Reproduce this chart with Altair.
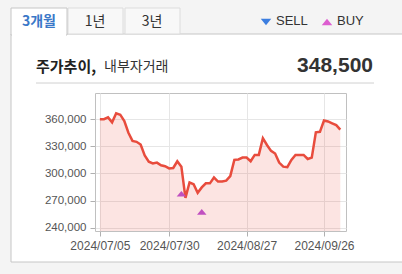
import altair as alt
import pandas as pd

# ---- data ----
prices = [360000, 360000, 362000, 356500, 366500, 365000, 358000, 345000, 336000, 335000,
          332000, 320000, 313000, 311000, 312000, 309000, 308000, 305500, 306000, 313500,
          307500, 273000, 290000, 288000, 278500, 284500, 289000, 289000, 295500, 291000,
          291000, 292000, 297000, 315000, 315500, 317500, 317500, 313500, 320500, 320500,
          339000, 331500, 325000, 322000, 312000, 307500, 307000, 315000, 320500, 320500,
          320500, 316000, 317500, 345500, 346000, 358500, 357500, 355500, 353500, 348500]
tick_idx = [0, 17, 36, 55]
tick_labels = ["2024/07/05", "2024/07/30", "2024/08/27", "2024/09/26"]
y_ticks = [240000, 270000, 300000, 330000, 360000]
buy_idx = [20, 25]
buy_price = [277500, 257500]
tabs = ["3개월", "1년", "3년"]
last_price = "348,500"

# ---- layout (absolute page px) ----
OX, OY = 95, 93          # plot origin
W, H = 251, 138
YMIN, YMAX = 236300, 389000

df = pd.DataFrame({"i": list(range(len(prices))), "p": prices})
buys = pd.DataFrame({"i": buy_idx, "p": buy_price})

label_map = "{" + ",".join(f"'{i}':'{l}'" for i, l in zip(tick_idx, tick_labels)) + "}"

xs = alt.Scale(domain=[-1.2, 60.4], nice=False, zero=False)
ys = alt.Scale(domain=[YMIN, YMAX], nice=False, zero=False)

x_axis = alt.Axis(values=tick_idx, labelExpr=f"{label_map}[''+datum.value]", title=None,
                  grid=True, gridColor="#e6e6e6", domain=False, tickColor="#b0b0b0",
                  tickSize=5, labelPadding=4, labelFont="Liberation Sans", labelFontSize=12,
                  labelColor="#555555", labelFlush=False, labelOverlap=False)
y_axis = alt.Axis(values=y_ticks, format=",d", title=None, grid=True, gridColor="#e6e6e6",
                  domain=False, tickColor="#b0b0b0", tickSize=5, labelPadding=4,
                  labelFont="Liberation Sans", labelFontSize=11.5, labelColor="#555555",
                  labelOverlap=False, tickCount=5)

X = alt.X("i:Q", scale=xs, axis=x_axis)
Y = alt.Y("p:Q", scale=ys, axis=y_axis)

area = alt.Chart(df).mark_area(color="#e84c3d", opacity=0.15).encode(
    x=X, y=Y, y2=alt.datum(YMIN))
line = alt.Chart(df).mark_line(color="#e84c3d", strokeWidth=2.5).encode(x=X, y=Y)
pts = alt.Chart(buys).mark_point(shape="M-1,0.6L1,0.6L0,-0.6Z", filled=True, color="#c050c0",
                                 size=90, opacity=1).encode(x=X, y=Y)

# ---- decorations ----
def R(x1, y1, x2, y2, fill, stroke="none"):
    return {"x": x1 - OX, "y": y1 - OY, "x2": x2 - OX, "y2": y2 - OY, "fill": fill, "stroke": stroke}

rects = pd.DataFrame([
    R(0, 0, 402, 34, "#f4f4f4"),
    R(0, 0, 11, 274, "#f4f4f4"),
    R(0, 262, 402, 274, "#f4f4f4"),
    R(11, 34, 420, 262, "none", "#c6c6c6"),
    R(68, 8, 123, 34, "#f8f8f8", "#dcdcdc"),
    R(125, 8, 180, 34, "#f8f8f8", "#dcdcdc"),
    R(11, 8, 67, 35, "#ffffff", "#c6c6c6"),
    R(12, 33, 66, 36, "#ffffff"),
])
rect_layer = alt.Chart(rects).mark_rect(strokeWidth=1).encode(
    x=alt.X("x:Q", scale=None), x2="x2:Q", y=alt.Y("y:Q", scale=None), y2="y2:Q",
    fill=alt.Fill("fill:N", scale=None), stroke=alt.Stroke("stroke:N", scale=None))

hline = alt.Chart(pd.DataFrame({"a": [0]})).mark_rule(color="#d0d0d0", strokeWidth=1).encode(
    x=alt.value(36 - OX), x2=alt.value(374 - OX), y=alt.value(83 - OY))

def T(txt, x, y, size, color, weight="normal", align="left", font="Noto Sans CJK KR"):
    return alt.Chart(pd.DataFrame({"t": [txt]})).mark_text(
        align=align, baseline="middle", fontSize=size, color=color, fontWeight=weight, font=font
    ).encode(x=alt.value(x - OX), y=alt.value(y - OY), text="t:N")

texts = [
    T(tabs[0], 39, 22, 14, "#3a78c8", "bold", "center"),
    T(tabs[1], 95, 22, 14, "#333333", "normal", "center"),
    T(tabs[2], 152, 22, 14, "#333333", "normal", "center"),
    T("SELL", 276, 21, 13, "#333333", "normal", "left", "Liberation Sans"),
    T("BUY", 337, 21, 13, "#333333", "normal", "left", "Liberation Sans"),
    T("주가추이,", 36, 67, 15, "#222222", "bold"),
    T("내부자거래", 104, 67, 14, "#333333", "normal"),
    T(last_price, 373, 66, 21, "#333333", "bold", "right", "Liberation Sans"),
]

legend_marks = [
    alt.Chart(pd.DataFrame({"a": [0]})).mark_point(shape="M-1,-0.6L1,-0.6L0,0.6Z", filled=True,
        color="#3c7ee0", size=110, opacity=1).encode(x=alt.value(266 - OX), y=alt.value(22 - OY)),
    alt.Chart(pd.DataFrame({"a": [0]})).mark_point(shape="M-1,0.6L1,0.6L0,-0.6Z", filled=True,
        color="#dd5ed0", size=110, opacity=1).encode(x=alt.value(327 - OX), y=alt.value(22 - OY)),
]

chart = alt.layer(rect_layer, area, line, pts, hline, *legend_marks, *texts).properties(
    width=W, height=H,
    autosize=alt.AutoSizeParams(type="none"),
    padding={"left": OX, "top": OY, "right": 402 - OX - W, "bottom": 274 - OY - H},
    background="#ffffff",
).configure_view(stroke="#c0c0c0", strokeWidth=1)

chart.save("out.html", embed_options={"renderer": "svg", "actions": False})
